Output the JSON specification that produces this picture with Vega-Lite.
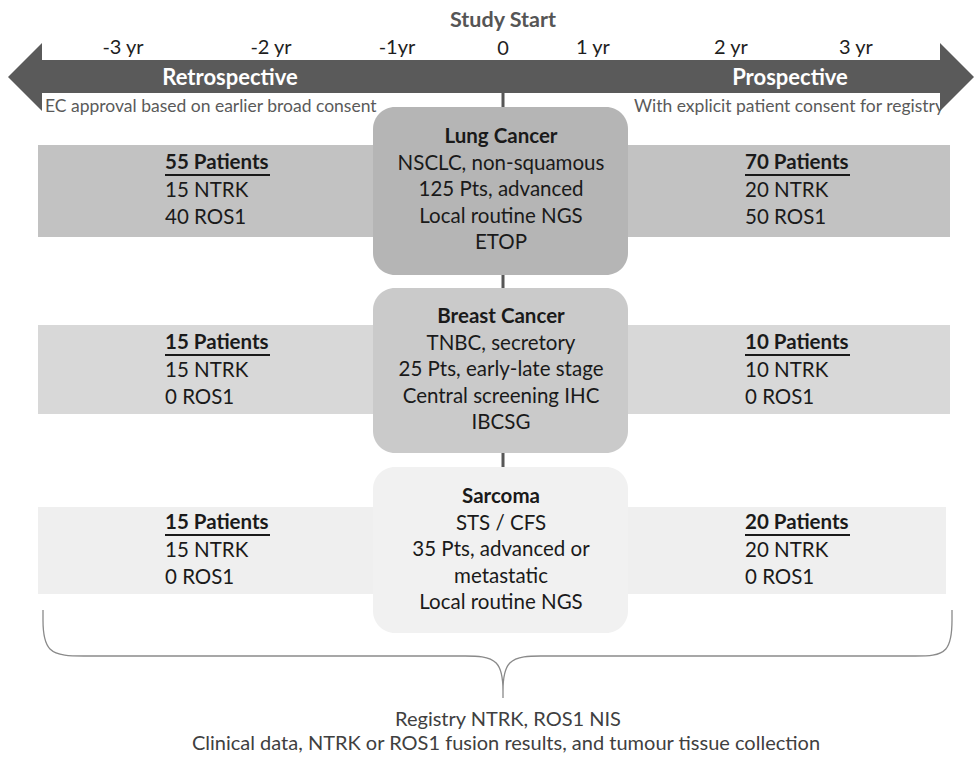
{
  "$schema": "https://vega.github.io/schema/vega-lite/v6.json",
  "width": 978,
  "height": 759,
  "autosize": {"type": "fit", "contains": "padding"},
  "padding": 0,
  "background": "white",
  "config": {"view": {"stroke": null}, "text": {"font": "Lato"}},
  "datasets": {
    "bands": [
      {"cohort": "Lung Cancer", "x": 38, "x2": 950, "y": 145, "y2": 237},
      {"cohort": "Breast Cancer", "x": 38, "x2": 950, "y": 325, "y2": 414},
      {"cohort": "Sarcoma", "x": 38, "x2": 946, "y": 507, "y2": 594}
    ],
    "timeline": [
      {"part": "study start line", "x": 503, "y": 91, "y2": 633}
    ],
    "boxes": [
      {"cohort": "Lung Cancer", "x": 373, "x2": 628, "y": 107, "y2": 275},
      {"cohort": "Breast Cancer", "x": 373, "x2": 628, "y": 288, "y2": 453},
      {"cohort": "Sarcoma", "x": 373, "x2": 628, "y": 467, "y2": 633}
    ],
    "arrowbody": [
      {"part": "time arrow", "x": 42, "x2": 940, "y": 60, "y2": 93}
    ],
    "arrowheads": [
      {"side": "left", "x": 8, "y": 77, "y2": 77},
      {"side": "left", "x": 42, "y": 43, "y2": 111},
      {"side": "right", "x": 940, "y": 43, "y2": 111},
      {"side": "right", "x": 974, "y": 77, "y2": 77}
    ],
    "title": [
      {"label": "Study Start", "x": 503, "y": 21}
    ],
    "ticks": [
      {"label": "-3 yr", "x": 123, "y": 48},
      {"label": "-2 yr", "x": 271, "y": 48},
      {"label": "-1yr", "x": 397, "y": 48},
      {"label": "0", "x": 503, "y": 49},
      {"label": "1 yr", "x": 593, "y": 48},
      {"label": "2 yr", "x": 731, "y": 48},
      {"label": "3 yr", "x": 856, "y": 48}
    ],
    "phases": [
      {"label": "Retrospective", "x": 230, "y": 78},
      {"label": "Prospective", "x": 790, "y": 78}
    ],
    "noteLeft": [
      {"label": "EC approval based on earlier broad consent", "x": 45, "y": 107}
    ],
    "noteRight": [
      {"label": "With explicit patient consent for registry", "x": 944, "y": 107}
    ],
    "cohorts": [
      {"cohort": "Lung Cancer", "details": "NSCLC, non-squamous\n125 Pts, advanced\nLocal routine NGS\nETOP", "x": 501, "y": 137},
      {"cohort": "Breast Cancer", "details": "TNBC, secretory\n25 Pts, early-late stage\nCentral screening IHC\nIBCSG", "x": 501, "y": 317},
      {"cohort": "Sarcoma", "details": "STS / CFS\n35 Pts, advanced or\nmetastatic\nLocal routine NGS", "x": 501, "y": 497}
    ],
    "counts": [
      {"cohort": "Lung Cancer", "phase": "Retrospective", "patients": "55 Patients", "split": "15 NTRK\n40 ROS1", "x": 165, "x2": 270, "y": 163},
      {"cohort": "Lung Cancer", "phase": "Prospective", "patients": "70 Patients", "split": "20 NTRK\n50 ROS1", "x": 745, "x2": 850, "y": 163},
      {"cohort": "Breast Cancer", "phase": "Retrospective", "patients": "15 Patients", "split": "15 NTRK\n0 ROS1", "x": 165, "x2": 270, "y": 343},
      {"cohort": "Breast Cancer", "phase": "Prospective", "patients": "10 Patients", "split": "10 NTRK\n0 ROS1", "x": 745, "x2": 850, "y": 343},
      {"cohort": "Sarcoma", "phase": "Retrospective", "patients": "15 Patients", "split": "15 NTRK\n0 ROS1", "x": 165, "x2": 270, "y": 523},
      {"cohort": "Sarcoma", "phase": "Prospective", "patients": "20 Patients", "split": "20 NTRK\n0 ROS1", "x": 745, "x2": 850, "y": 523}
    ],
    "brace": [
      {"i": 1, "x": 43, "y": 610},
      {"i": 2, "x": 43, "y": 614},
      {"i": 3, "x": 43, "y": 656},
      {"i": 4, "x": 85, "y": 656},
      {"i": 5, "x": 120, "y": 656},
      {"i": 6, "x": 440, "y": 656},
      {"i": 7, "x": 462, "y": 656},
      {"i": 8, "x": 503, "y": 656},
      {"i": 9, "x": 503, "y": 698},
      {"i": 10, "x": 503, "y": 698},
      {"i": 11, "x": 503, "y": 698},
      {"i": 12, "x": 503, "y": 656},
      {"i": 13, "x": 544, "y": 656},
      {"i": 14, "x": 566, "y": 656},
      {"i": 15, "x": 880, "y": 656},
      {"i": 16, "x": 915, "y": 656},
      {"i": 17, "x": 952, "y": 656},
      {"i": 18, "x": 952, "y": 614},
      {"i": 19, "x": 952, "y": 610}
    ],
    "footer": [
      {"label": "Registry NTRK, ROS1 NIS", "x": 508, "y": 720},
      {"label": "Clinical data, NTRK or ROS1 fusion results, and tumour tissue collection", "x": 506, "y": 744}
    ]
  },
  "encoding": {
    "x": {"field": "x", "type": "quantitative", "scale": {"domain": [0, 978], "nice": false, "zero": false}, "axis": null},
    "y": {"field": "y", "type": "quantitative", "scale": {"domain": [0, 759], "nice": false, "zero": false, "reverse": true}, "axis": null}
  },
  "layer": [
    {
      "data": {"name": "bands"},
      "mark": {"type": "rect"},
      "encoding": {
        "x2": {"field": "x2"},
        "y2": {"field": "y2"},
        "color": {"field": "cohort", "type": "nominal", "legend": null,
          "scale": {"domain": ["Lung Cancer", "Breast Cancer", "Sarcoma"], "range": ["#c2c2c2", "#d8d8d8", "#efefef"]}}
      }
    },
    {
      "data": {"name": "timeline"},
      "mark": {"type": "rule", "color": "#575757", "strokeWidth": 3},
      "encoding": {"y2": {"field": "y2"}}
    },
    {
      "data": {"name": "boxes"},
      "mark": {"type": "rect", "cornerRadius": 22},
      "encoding": {
        "x2": {"field": "x2"},
        "y2": {"field": "y2"},
        "fill": {"field": "cohort", "type": "nominal", "legend": null,
          "scale": {"domain": ["Lung Cancer", "Breast Cancer", "Sarcoma"], "range": ["#b5b5b5", "#cacaca", "#f1f1f1"]}}
      }
    },
    {
      "data": {"name": "arrowbody"},
      "mark": {"type": "rect", "color": "#5a5a5a"},
      "encoding": {"x2": {"field": "x2"}, "y2": {"field": "y2"}}
    },
    {
      "data": {"name": "arrowheads"},
      "mark": {"type": "area", "color": "#5a5a5a", "opacity": 1},
      "encoding": {"y2": {"field": "y2"}, "detail": {"field": "side"}}
    },
    {
      "data": {"name": "title"},
      "mark": {"type": "text", "fontWeight": "bold", "fontSize": 21.5, "color": "#555555", "baseline": "middle"},
      "encoding": {"text": {"field": "label"}}
    },
    {
      "data": {"name": "ticks"},
      "mark": {"type": "text", "fontSize": 20, "color": "#1e1e1e", "baseline": "middle"},
      "encoding": {"text": {"field": "label"}}
    },
    {
      "data": {"name": "phases"},
      "mark": {"type": "text", "fontSize": 22, "fontWeight": "bold", "color": "white", "baseline": "middle"},
      "encoding": {"text": {"field": "label"}}
    },
    {
      "data": {"name": "noteLeft"},
      "mark": {"type": "text", "fontSize": 17.5, "color": "#5a5a5a", "baseline": "middle", "align": "left"},
      "encoding": {"text": {"field": "label"}}
    },
    {
      "data": {"name": "noteRight"},
      "mark": {"type": "text", "fontSize": 17.5, "color": "#5a5a5a", "baseline": "middle", "align": "right"},
      "encoding": {"text": {"field": "label"}}
    },
    {
      "data": {"name": "cohorts"},
      "mark": {"type": "text", "fontSize": 20.5, "fontWeight": "bold", "color": "#1a1a1a", "baseline": "middle"},
      "encoding": {"text": {"field": "cohort"}}
    },
    {
      "data": {"name": "cohorts"},
      "mark": {"type": "text", "fontSize": 20.5, "color": "#1a1a1a", "baseline": "middle", "lineBreak": "\n", "lineHeight": 26.6, "dy": 26.6},
      "encoding": {"text": {"field": "details"}}
    },
    {
      "data": {"name": "counts"},
      "mark": {"type": "text", "fontSize": 20.5, "fontWeight": "bold", "color": "#1a1a1a", "baseline": "middle", "align": "left"},
      "encoding": {"text": {"field": "patients"}}
    },
    {
      "data": {"name": "counts"},
      "mark": {"type": "rule", "color": "#1a1a1a", "strokeWidth": 1.8, "yOffset": 12},
      "encoding": {"x2": {"field": "x2"}}
    },
    {
      "data": {"name": "counts"},
      "mark": {"type": "text", "fontSize": 20.5, "color": "#1a1a1a", "baseline": "middle", "align": "left", "lineBreak": "\n", "lineHeight": 26.6, "dy": 28},
      "encoding": {"text": {"field": "split"}}
    },
    {
      "data": {"name": "brace"},
      "mark": {"type": "line", "interpolate": "basis", "color": "#8a8a8a", "strokeWidth": 1.3},
      "encoding": {"order": {"field": "i", "type": "quantitative"}}
    },
    {
      "data": {"name": "footer"},
      "mark": {"type": "text", "fontSize": 20, "color": "#404040", "baseline": "middle"},
      "encoding": {"text": {"field": "label"}}
    }
  ]
}
